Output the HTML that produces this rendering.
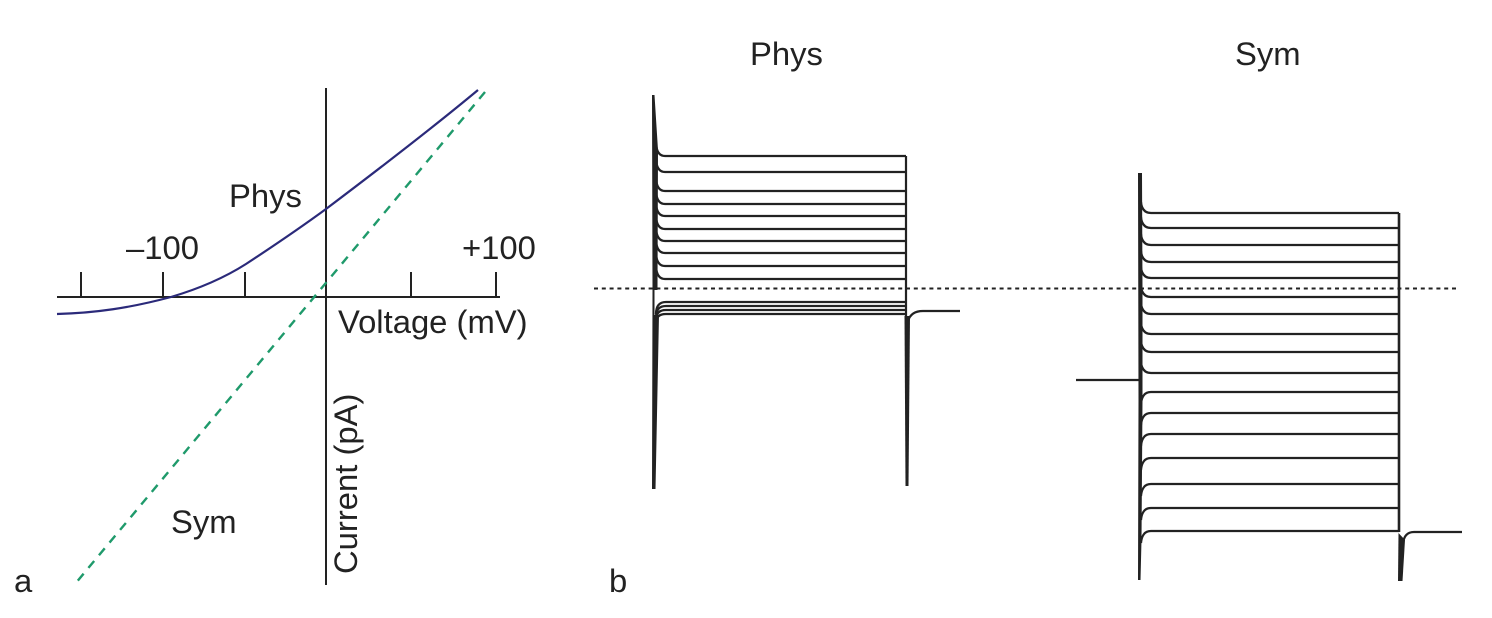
<!DOCTYPE html>
<html><head><meta charset="utf-8"><style>
html,body{margin:0;padding:0;background:#fff}
svg{display:block}
text{font-family:"Liberation Sans",sans-serif;font-size:32.8px;fill:#222}
</style></head><body>
<svg width="1492" height="618" viewBox="0 0 1492 618" xmlns="http://www.w3.org/2000/svg">
<rect width="1492" height="618" fill="#fff"/>
<g fill="none" stroke="#222" stroke-width="2">
<path d="M326 88V585M57 297H500M81 272V297M163 272V297M245 272V297M411 272V297M496 272V297"/>
</g>
<path d="M485 92L75 584" fill="none" stroke="#1f9a6b" stroke-width="2.400" stroke-dasharray="9 7.500"/>
<path d="M57 314C95 313 130 308 171 297C198 289 224 278 246 264C275 245 300 228 326 209C375 172 430 130 478 90" fill="none" stroke="#2b2a7a" stroke-width="2.200"/>
<text x="229" y="207">Phys</text>
<text x="126" y="259">–100</text>
<text x="462" y="259">+100</text>
<text x="338" y="333">Voltage (mV)</text>
<text x="171" y="533">Sym</text>
<text transform="translate(357 574) rotate(-90)">Current (pA)</text>
<text x="14" y="592">a</text>
<text x="609" y="592">b</text>
<text x="750" y="65">Phys</text>
<text x="1235" y="65">Sym</text>
<path d="M594 288.500H1459" fill="none" stroke="#222" stroke-width="1.900" stroke-dasharray="4 3.800"/>
<g fill="#222" stroke="none">
<path d="M652 95H654.500L658 150L657.500 290H654.500V315H659L655.500 489H652L652.500 290Z"/>
<path d="M904.500 316H910L908.500 486H905.500Z"/>
<path d="M1138 173H1142L1142.500 290L1142.500 400L1141.500 540L1140.500 580H1138L1138.500 400Z"/>
<path d="M1398.500 533L1405 540L1402.500 581H1398Z"/>
</g>
<g fill="none" stroke="#222" stroke-width="2.200">
<path d="M906 156V316"/>
<path d="M656 144Q657 156 665 156H906"/>
<path d="M656 160Q657 172 665 172H906"/>
<path d="M656 179Q657 191 665 191H906"/>
<path d="M656 192Q657 204 665 204H906"/>
<path d="M656 204Q657 216 665 216H906"/>
<path d="M656 217Q657 229 665 229H906"/>
<path d="M656 229Q657 241 665 241H906"/>
<path d="M656 241Q657 253 665 253H906"/>
<path d="M656 254Q657 266 665 266H906"/>
<path d="M656 267Q657 279 665 279H906"/>
<path d="M656 314Q656 302 666 302H906"/>
<path d="M656 317Q656 306 666 306H906"/>
<path d="M656 320Q656 310 666 310H906"/>
<path d="M656 323Q656 314 666 314H906"/>
<path d="M908 321Q911 311 923 311H960"/>
<path d="M1399 213V532" stroke-width="2.600"/>
<path d="M1141 202Q1142 213 1151 213H1399"/>
<path d="M1141 217Q1142 228 1151 228H1399"/>
<path d="M1141 234Q1142 245 1151 245H1399"/>
<path d="M1141 251Q1142 262 1151 262H1399"/>
<path d="M1141 267Q1142 278 1151 278H1399"/>
<path d="M1141 286Q1142 297 1151 297H1399"/>
<path d="M1141 303Q1142 314 1151 314H1399"/>
<path d="M1141 323Q1142 334 1151 334H1399"/>
<path d="M1141 341Q1142 352 1151 352H1399"/>
<path d="M1141 362Q1142 373 1151 373H1399"/>
<path d="M1141 404Q1142 392 1151 392H1399"/>
<path d="M1141 425Q1142 413 1151 413H1399"/>
<path d="M1141 446Q1142 434 1151 434H1399"/>
<path d="M1141 470Q1142 458 1151 458H1399"/>
<path d="M1141 496Q1142 484 1151 484H1399"/>
<path d="M1141 520Q1142 508 1151 508H1399"/>
<path d="M1141 543Q1142 531 1151 531H1399"/>
<path d="M1403 544Q1404 532 1414 532H1462"/>
<path d="M1076 380H1139"/>
</g>
</svg>
</body></html>
